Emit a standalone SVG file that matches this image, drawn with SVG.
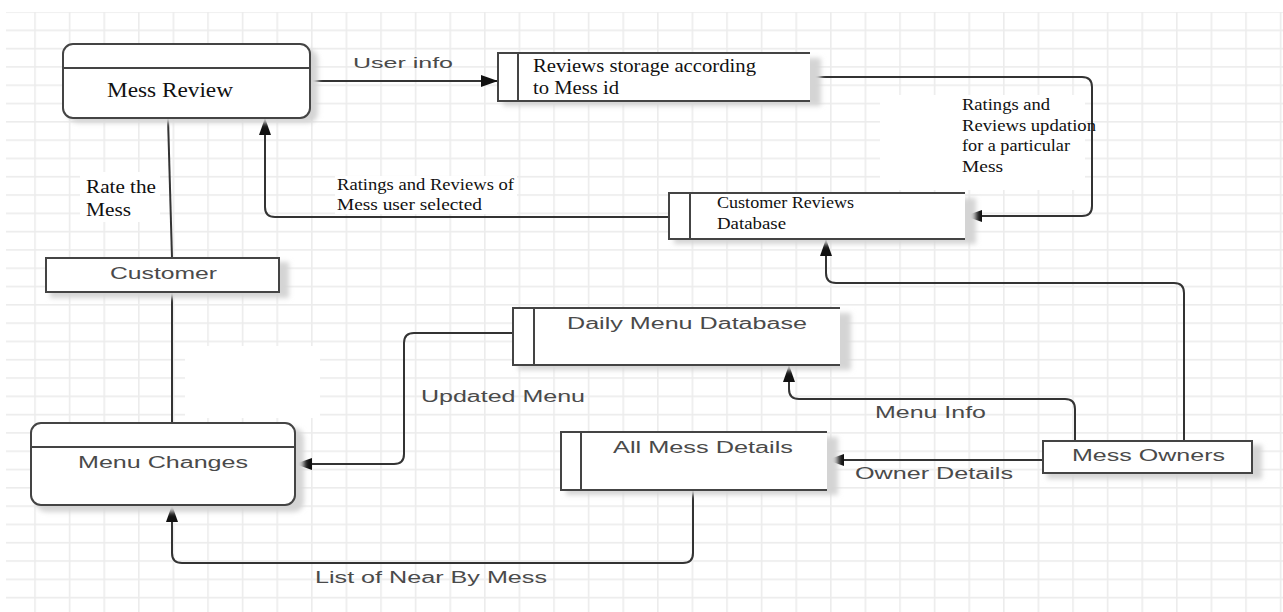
<svg xmlns="http://www.w3.org/2000/svg" width="1283" height="612" viewBox="0 0 1283 612">
<defs>
<pattern id="grid" patternUnits="userSpaceOnUse" x="34.2" y="11.2" width="34.6" height="18.3">
<rect x="0" y="0" width="34.6" height="1.6" fill="#ececec"/>
<rect x="0" y="0" width="1.6" height="18.3" fill="#ececec"/>
</pattern>
<filter id="blur" x="-20%" y="-20%" width="140%" height="140%"><feGaussianBlur stdDeviation="2.5"/></filter>
<marker id="arr" markerUnits="userSpaceOnUse" markerWidth="18" markerHeight="14" refX="17" refY="7" orient="auto">
<path d="M0,1 L17,7 L0,13 Z" fill="#111"/>
</marker>
<style>
.box{fill:#fff;stroke:#444;stroke-width:2}
.ln{fill:none;stroke:#444;stroke-width:2}
.con{fill:none;stroke:#333;stroke-width:2}
.sh{fill:#d4d4d4;filter:url(#blur)}
.serif{font-family:"Liberation Serif","Times New Roman",serif;fill:#111}
.sans{font-family:"Liberation Sans",Arial,sans-serif;fill:#4a4a4a}
</style>
</defs>
<rect width="1283" height="612" fill="#fff"/>
<rect x="6" y="12" width="1277" height="600" fill="url(#grid)"/>
<g fill="#fff">
<rect x="880" y="95" width="205" height="95"/>
<rect x="335" y="176" width="182" height="38"/>
<rect x="185" y="346" width="135" height="72"/>
<rect x="80" y="172" width="80" height="50"/>
</g>

<g id="connectors">
<path class="con" d="M310 81 H498" marker-end="url(#arr)"/>
<path class="con" d="M810 77 H1082 Q1092 77 1092 87 V206 Q1092 216 1082 216 H965" marker-end="url(#arr)"/>
<path class="con" d="M669 217 H275 Q265 217 265 207 V118" marker-end="url(#arr)"/>
<path class="con" d="M168 118 L172 258"/>
<path class="con" d="M172 292 V423"/>
<path class="con" d="M513 333 H414 Q404 333 404 343 V454 Q404 464 394 464 H295" marker-end="url(#arr)"/>
<path class="con" d="M1075 441 V409 Q1075 399 1065 399 H799 Q789 399 789 389 V365" marker-end="url(#arr)"/>
<path class="con" d="M1184 441 V293 Q1184 283 1174 283 H836 Q826 283 826 273 V239" marker-end="url(#arr)"/>
<path class="con" d="M1043 460 H827" marker-end="url(#arr)"/>
<path class="con" d="M693 490 V553 Q693 563 683 563 H182 Q172 563 172 553 V505" marker-end="url(#arr)"/>
<text class="sans" x="353" y="68" font-size="15" textLength="100" lengthAdjust="spacingAndGlyphs">User info</text>
<text class="serif" x="337" y="190" font-size="17" textLength="177" lengthAdjust="spacingAndGlyphs">Ratings and Reviews of</text>
<text class="serif" x="337" y="210" font-size="17" textLength="145" lengthAdjust="spacingAndGlyphs">Mess user selected</text>
<text class="serif" x="962" y="110" font-size="16" textLength="88" lengthAdjust="spacingAndGlyphs">Ratings and</text>
<text class="serif" x="962" y="131" font-size="16" textLength="134" lengthAdjust="spacingAndGlyphs">Reviews updation</text>
<text class="serif" x="962" y="151" font-size="16" textLength="108" lengthAdjust="spacingAndGlyphs">for a particular</text>
<text class="serif" x="962" y="172" font-size="16" textLength="41" lengthAdjust="spacingAndGlyphs">Mess</text>
<text class="serif" x="86" y="193" font-size="19" textLength="70" lengthAdjust="spacingAndGlyphs">Rate the</text>
<text class="serif" x="86" y="216" font-size="19" textLength="45" lengthAdjust="spacingAndGlyphs">Mess</text>
<text class="sans" x="421" y="402" font-size="16" textLength="164" lengthAdjust="spacingAndGlyphs">Updated Menu</text>
<text class="sans" x="875" y="418" font-size="16" textLength="111" lengthAdjust="spacingAndGlyphs">Menu Info</text>
<text class="sans" x="855" y="479" font-size="16" textLength="158" lengthAdjust="spacingAndGlyphs">Owner Details</text>
<text class="sans" x="315" y="583" font-size="16" textLength="232" lengthAdjust="spacingAndGlyphs">List of Near By Mess</text>
</g>

<g id="mess-review">
<rect class="sh" x="68" y="49" width="250" height="74" rx="10"/>
<rect class="box" x="63" y="44" width="247" height="74" rx="10"/>
<line class="ln" x1="63" y1="68" x2="310" y2="68"/>
<text class="serif" x="107" y="97" font-size="21" textLength="126" lengthAdjust="spacingAndGlyphs">Mess Review</text>
</g>

<g id="customer">
<rect class="sh" x="50" y="262" width="239" height="36"/>
<rect class="box" x="46" y="258" width="233" height="34"/>
<text class="sans" x="110" y="279" font-size="16" textLength="107" lengthAdjust="spacingAndGlyphs">Customer</text>
</g>

<g id="menu-changes">
<rect class="sh" x="36" y="428" width="268" height="84" rx="10"/>
<rect class="box" x="31" y="423" width="264" height="82" rx="10"/>
<line class="ln" x1="31" y1="447" x2="295" y2="447"/>
<text class="sans" x="78" y="468" font-size="16" textLength="170" lengthAdjust="spacingAndGlyphs">Menu Changes</text>
</g>

<g id="reviews-storage">
<rect class="sh" x="503" y="58" width="318" height="48"/>
<rect x="498" y="53" width="312" height="48" fill="#fff"/>
<path class="ln" d="M810 53 H498 V101 H810 M518 53 V101"/>
<text class="serif" x="533" y="72" font-size="19" textLength="223" lengthAdjust="spacingAndGlyphs">Reviews storage according</text>
<text class="serif" x="533" y="94" font-size="19" textLength="86" lengthAdjust="spacingAndGlyphs">to Mess id</text>
</g>

<g id="customer-reviews-db">
<rect class="sh" x="674" y="198" width="302" height="46"/>
<rect x="669" y="193" width="296" height="46" fill="#fff"/>
<path class="ln" d="M965 193 H669 V239 H965 M690 193 V239"/>
<text class="serif" x="717" y="208" font-size="16" textLength="137" lengthAdjust="spacingAndGlyphs">Customer Reviews</text>
<text class="serif" x="717" y="229" font-size="16" textLength="69" lengthAdjust="spacingAndGlyphs">Database</text>
</g>

<g id="daily-menu-db">
<rect class="sh" x="518" y="313" width="333" height="57"/>
<rect x="513" y="308" width="327" height="57" fill="#fff"/>
<path class="ln" d="M840 308 H513 V365 H840 M534 308 V365"/>
<text class="sans" x="567" y="329" font-size="16" textLength="240" lengthAdjust="spacingAndGlyphs">Daily Menu Database</text>
</g>

<g id="all-mess-details">
<rect class="sh" x="566" y="437" width="272" height="58"/>
<rect x="561" y="432" width="266" height="58" fill="#fff"/>
<path class="ln" d="M827 432 H561 V490 H827 M581 432 V490"/>
<text class="sans" x="613" y="453" font-size="16" textLength="180" lengthAdjust="spacingAndGlyphs">All Mess Details</text>
</g>

<g id="mess-owners">
<rect class="sh" x="1047" y="445" width="215" height="34"/>
<rect class="box" x="1043" y="441" width="209" height="32"/>
<text class="sans" x="1072" y="461" font-size="16" textLength="153" lengthAdjust="spacingAndGlyphs">Mess Owners</text>
</g>
</svg>
